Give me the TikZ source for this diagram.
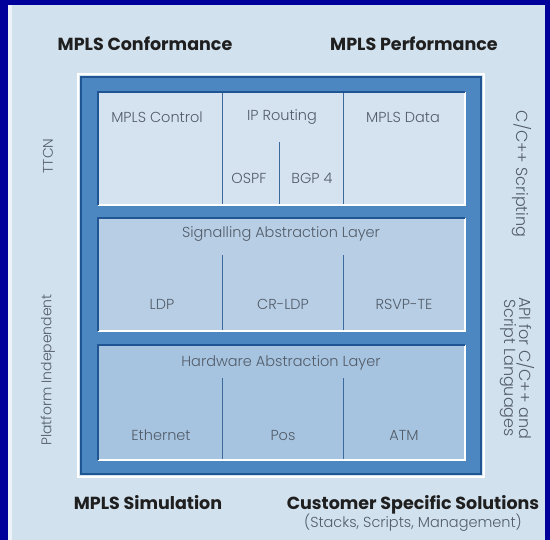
\documentclass[tikz,border=0pt]{standalone}
\usepackage{fontspec}
\setmainfont{Poppins}
\newfontfamily\lightfont{Poppins Light}
\definecolor{bgblue}{HTML}{00009A}
\definecolor{panel}{HTML}{D2E1EE}
\definecolor{frameblue}{HTML}{4D87C2}
\definecolor{framedark}{HTML}{1F5592}
\definecolor{celltop}{HTML}{D5E3F0}
\definecolor{cellmid}{HTML}{B7CEE5}
\definecolor{cellbot}{HTML}{A6C3DF}
\definecolor{txtlight}{HTML}{525C68}
\definecolor{divline}{HTML}{3C6A9C}
\tikzset{
  heading/.style={font=\fontsize{17.5}{20}\selectfont\bfseries, text=black!88, inner sep=0pt},
  lbl/.style={font=\lightfont\fontsize{14.5}{16}\selectfont, text=txtlight, inner sep=0pt},
  sidelbl/.style={font=\lightfont\fontsize{14}{16}\selectfont, text=txtlight, inner sep=0pt, align=center},
  sidelblr/.style={font=\lightfont\fontsize{16}{15}\selectfont, text=txtlight, inner sep=0pt, align=center},
  cellbox/.style={inner sep=0pt, outer sep=0pt},
  divider/.style={draw=divline, line width=0.8pt},
}
\begin{document}
\begin{tikzpicture}[x=1pt,y=-1pt]
\useasboundingbox (0,0) rectangle (550,540);
% backgrounds
\fill[bgblue] (0,0) rectangle (550,540);
\fill[panel] (8,5) rectangle (545,540);
\fill[white!60!panel] (8,5) rectangle (12,540);
% frame
\draw[white, line width=1.2pt] (78,74) rectangle (484,477);
\fill[frameblue] (80,76) rectangle (482,475);
\draw[framedark, line width=1.6pt] (80.8,76.8) rectangle (481.2,474.2);
% cells
\foreach \n/\t/\b/\c in {ctop/92/205/celltop, cmid/218/331/cellmid, cbot/345/460/cellbot}{
  \fill[\c] (98,\t) rectangle (465,\b);
  \draw[white, line width=2pt] (98,\b) -- (465,\b) -- (465,\t);
  \draw[framedark, line width=2pt] (98,\b) -- (98,\t) -- (465,\t);
}
\node[cellbox, minimum width=367pt, minimum height=113pt, anchor=north west] (ctopn) at (98,92) {};
\node[cellbox, minimum width=367pt, minimum height=113pt, anchor=north west] (cmidn) at (98,218) {};
\node[cellbox, minimum width=367pt, minimum height=115pt, anchor=north west] (cbotn) at (98,345) {};
% dividers
\coordinate (d1t) at (222,93); \coordinate (d1b) at (222,204);
\coordinate (d2t) at (343,93); \coordinate (d2b) at (343,204);
\coordinate (d3t) at (279,142); \coordinate (d3b) at (279,204);
\coordinate (m1t) at (222,255); \coordinate (m1b) at (222,330);
\coordinate (m2t) at (343,255); \coordinate (m2b) at (343,330);
\coordinate (b1t) at (222,378); \coordinate (b1b) at (222,459);
\coordinate (b2t) at (343,378); \coordinate (b2b) at (343,459);
\draw[divider] (d1t) -- (d1b);
\draw[divider] (d2t) -- (d2b);
\draw[divider] (d3t) -- (d3b);
\draw[divider] (m1t) -- (m1b);
\draw[divider] (m2t) -- (m2b);
\draw[divider] (b1t) -- (b1b);
\draw[divider] (b2t) -- (b2b);
% cell labels
\node[lbl] (mctl) at (157,117) {MPLS Control};
\node[lbl] (iprt) at (282,117) {IP Routing};
\node[lbl] (mdat) at (403,117) {MPLS Data};
\node[lbl] (ospf) at (249,178) {OSPF};
\node[lbl] (bgp) at (312,178) {BGP 4};
\node[lbl] (sal) at (281,234) {Signalling Abstraction Layer};
\node[lbl] (ldp) at (162,304) {LDP};
\node[lbl] (crldp) at (283,304) {CR-LDP};
\node[lbl] (rsvp) at (404,304) {RSVP-TE};
\node[lbl] (hal) at (281,363) {Hardware Abstraction Layer};
\node[lbl] (eth) at (161,435) {Ethernet};
\node[lbl] (pos) at (283,435) {Pos};
\node[lbl] (atm) at (404,435) {ATM};
% side labels
\node[sidelbl, rotate=90] (ttcn) at (48,156) {TTCN};
\node[sidelbl, rotate=90] (plat) at (48,370) {Platform Independent};
\node[sidelblr, rotate=-90] (cscr) at (522,174) {C/C++ Scripting};
\node[sidelblr, rotate=-90] (api) at (517,368) {API for C/C++ and\\Script Languages};
% headings
\node[heading] (conf) at (145,44) {MPLS Conformance};
\node[heading] (perf) at (414,44) {MPLS Performance};
\node[heading] (sim) at (148,503) {MPLS Simulation};
\node[heading] (cust) at (413,505) {Customer Specific Solutions};
\node[lbl] (stk) at (413,523) {(Stacks, Scripts, Management)};
\end{tikzpicture}
\end{document}
